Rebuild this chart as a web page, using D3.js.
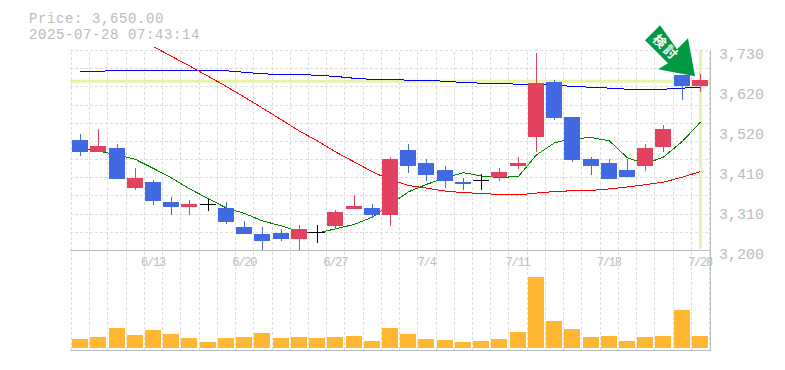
<!DOCTYPE html>
<html>
<head>
<meta charset="utf-8">
<script src="https://cdn.jsdelivr.net/npm/d3@7/dist/d3.min.js"></script>
<style>
  html, body { margin: 0; padding: 0; background: #fff; }
  text { font-family: "Liberation Mono", monospace; fill: #bbb; }
  .axis path, .axis line { stroke: none; }
  .grid line { stroke: #ddd; stroke-dasharray: 3,2; shape-rendering: crispEdges; }
  .grid path { stroke: none; }
</style>
</head>
<body>
<div id="chart"></div>
<script>
const dates = ["6/9","6/10","6/11","6/12","6/13","6/16","6/17","6/18","6/19","6/20","6/23","6/24","6/25","6/26","6/27","6/30","7/1","7/2","7/3","7/4","7/7","7/8","7/9","7/10","7/11","7/14","7/15","7/16","7/17","7/18","7/22","7/23","7/24","7/25","7/28"];
const dateLabels = ["6/13","6/20","6/27","7/4","7/11","7/18","7/28"];
const opens  = [3492,3460,3470,3364,3380,3327,3314,3321,3311,3261,3242,3245,3229,3249,3264,3309,3311,3293,3465,3431,3412,3380,3386,3393,3423,3499,3645,3552,3441,3431,3412,3423,3473,3664,3635];
const highs  = [3507,3521,3481,3417,3386,3340,3332,3335,3327,3277,3261,3256,3266,3266,3306,3346,3322,3446,3481,3441,3423,3391,3401,3417,3446,3722,3650,3552,3446,3441,3441,3481,3531,3664,3666];
const lows   = [3449,3460,3388,3359,3319,3293,3293,3303,3269,3242,3197,3224,3197,3219,3258,3309,3285,3264,3404,3383,3364,3359,3359,3383,3415,3460,3545,3433,3399,3388,3393,3409,3460,3598,3619];
const closes = [3460,3476,3388,3391,3330,3314,3322,3321,3274,3242,3224,3229,3256,3249,3301,3317,3293,3441,3423,3399,3383,3375,3386,3407,3431,3643,3550,3439,3423,3388,3393,3470,3521,3635,3650];
const volumes = [90,110,200,130,180,140,100,60,100,110,150,100,110,100,110,120,70,200,140,90,80,60,70,90,160,710,270,190,110,120,70,110,120,380,120];
const ma5 = [3470,3462,3452,3440,3416,3391,3362,3336,3311,3297,3277,3264,3248,3245,3256,3268,3287,3321,3354,3374,3391,3405,3396,3392,3395,3452,3484,3495,3498,3489,3444,3429,3446,3488,3539];
const ma25 = [null,null,null,null,3739,3713,3688,3660,3633,3605,3576,3545,3515,3489,3460,3433,3407,3386,3371,3364,3356,3352,3350,3347,3346,3351,3355,3357,3358,3362,3367,3373,3380,3393,3408];
const ma75 = [3673,3674,3675,3675,3675,3675,3675,3675,3675,3671,3667,3665,3665,3663,3660,3655,3652,3652,3650,3650,3647,3644,3642,3642,3639,3639,3636,3634,3631,3629,3626,3626,3626,3629,3631];
const priceTicks = [3200,3306,3412,3518,3624,3730];
const priceMin = 3200, priceMax = 3730, gridSteps = 11;
const currentPrice = 3650;
const title = ["Price: 3,650.00", "2025-07-28 07:43:14"];
const flagLabel = "検討";

const width = 785, height = 370;
const plot = { left: 71, right: 709, top: 50, bottom: 250, volBottom: 348, panelBottom: 350 };
const blue = "#4169e1", red = "#e2425f", black = "#000", band = "#e5f4a9", border = "#bbb", orange = "#ffb733";

const svg = d3.select("#chart").append("svg")
    .attr("width", width)
    .attr("height", height)
    .style("display", "block");

const x = d3.scaleBand().domain(dates).range([plot.left, plot.right]);
const y = d3.scaleLinear().domain([priceMin, priceMax]).range([plot.bottom, plot.top]);
const yVol = d3.scaleLinear().domain([0, 980]).range([plot.volBottom, plot.volBottom - 98]);
const cx = d => Math.round(x(d) + x.bandwidth() / 2);

// grid
const hTicks = d3.range(gridSteps + 1).map(i => priceMin + i * (priceMax - priceMin) / gridSteps);
svg.append("g").attr("class", "grid")
    .attr("transform", "translate(" + (plot.left - 1) + ",0)")
    .call(d3.axisLeft(y).tickValues(hTicks.slice(1)).tickSize(-(plot.right - plot.left + 2)).tickFormat(""));

const edges = d3.range(dates.length + 1);
const xEdge = d3.scaleLinear().domain([0, dates.length]).range([plot.left, plot.right]);
svg.append("g").attr("class", "grid")
    .attr("transform", "translate(0," + plot.panelBottom + ")")
    .selectAll("line").data(edges).enter().append("line")
    .attr("x1", d => Math.round(xEdge(d)) + 0.5)
    .attr("x2", d => Math.round(xEdge(d)) + 0.5)
    .attr("y1", 0)
    .attr("y2", plot.top - plot.panelBottom);

// current price cross
const last = dates[dates.length - 1];
svg.append("line")
    .attr("x1", plot.left - 1).attr("x2", plot.right + 1)
    .attr("y1", y(currentPrice) + 1).attr("y2", y(currentPrice) + 1)
    .attr("stroke", band).attr("stroke-width", 3);
svg.append("line")
    .attr("x1", cx(last) + 0.5).attr("x2", cx(last) + 0.5)
    .attr("y1", plot.top + 1).attr("y2", plot.bottom - 1)
    .attr("stroke", band).attr("stroke-width", 3);

// moving averages
const maLine = d3.line()
    .defined(d => d.v !== null)
    .x(d => cx(d.date) + 0.5)
    .y(d => y(d.v));
[[ma75, "#0000ff"], [ma25, "#ff0000"], [ma5, "#008000"]].forEach(([values, color]) => {
    svg.append("path")
        .datum(values.map((v, i) => ({ date: dates[i], v: v })))
        .attr("d", maLine)
        .attr("fill", "none")
        .attr("stroke", color)
        .attr("stroke-width", 1)
        .attr("shape-rendering", "crispEdges");
});

// candles
const candles = dates.map((d, i) => ({ date: d, o: opens[i], h: highs[i], l: lows[i], c: closes[i] }));
const candleColor = d => d.c > d.o ? red : d.c < d.o ? blue : black;

svg.append("g").selectAll("line").data(candles).enter().append("line")
    .attr("x1", d => cx(d.date) + 0.5)
    .attr("x2", d => cx(d.date) + 0.5)
    .attr("y1", d => y(d.h))
    .attr("y2", d => y(d.l))
    .attr("stroke", candleColor)
    .attr("shape-rendering", "crispEdges");

svg.append("g").selectAll("rect").data(candles).enter().append("rect")
    .attr("x", d => cx(d.date) - 8)
    .attr("width", 16)
    .attr("y", d => Math.round(y(Math.max(d.o, d.c))))
    .attr("height", d => Math.max(1, Math.round(y(Math.min(d.o, d.c))) - Math.round(y(Math.max(d.o, d.c)))))
    .attr("fill", candleColor)
    .attr("shape-rendering", "crispEdges");

// volume
svg.append("g").selectAll("rect").data(volumes).enter().append("rect")
    .attr("x", (d, i) => cx(dates[i]) - 8)
    .attr("width", 16)
    .attr("y", d => yVol(d))
    .attr("height", d => yVol(0) - yVol(d))
    .attr("fill", orange)
    .attr("shape-rendering", "crispEdges");

// panel borders
[plot.bottom, plot.panelBottom].forEach(v => {
    svg.append("line")
        .attr("x1", plot.left - 1).attr("x2", plot.right + 2)
        .attr("y1", v + 0.5).attr("y2", v + 0.5)
        .attr("stroke", border);
});
svg.append("line")
    .attr("x1", plot.right + 1.5).attr("x2", plot.right + 1.5)
    .attr("y1", plot.top).attr("y2", plot.panelBottom + 1)
    .attr("stroke", border);

// axes
const yAxis = d3.axisRight(y)
    .tickValues(priceTicks)
    .tickSize(0)
    .tickPadding(9)
    .tickFormat(d => d3.format(",")(Math.round(d / 10) * 10));
const yAxisG = svg.append("g").attr("class", "axis")
    .attr("transform", "translate(" + (plot.right + 1) + ",0)")
    .call(yAxis);
yAxisG.selectAll("text").attr("dy", "8px").style("font-size", "15px");

const xAxis = d3.axisBottom(x).tickValues(dateLabels).tickSize(0).tickPadding(0);
const xAxisG = svg.append("g").attr("class", "axis")
    .attr("transform", "translate(0," + plot.bottom + ")")
    .call(xAxis);
xAxisG.selectAll("text")
    .attr("dy", "16px")
    .style("font-size", "12px")
    .style("letter-spacing", "-1.2px");

// header
svg.selectAll(".title").data(title).enter().append("text")
    .attr("class", "title")
    .attr("x", 29)
    .attr("y", (d, i) => 22.5 + i * 16)
    .style("font-size", "14px")
    .style("letter-spacing", "0.6px")
    .text(d => d);

// flag arrow, drawn relative to its tip above the last candles
const tipX = cx(last) - 5, tipY = y(currentPrice) - 4;
const arrow = [[-35, -51], [-18, -27], [-7, -38], [0, 0], [-37, -7], [-27, -13], [-50, -36]];
const flag = svg.append("g").attr("transform", "translate(" + tipX + "," + tipY + ")");
flag.append("polygon")
    .attr("points", arrow.map(p => p.join(",")).join(" "))
    .attr("fill", "#009944");
flag.append("text")
    .attr("transform", "translate(-29,-29) rotate(45)")
    .attr("text-anchor", "middle")
    .attr("dy", "5px")
    .style("font-family", '"Noto Sans CJK JP"')
    .style("font-size", "13px")
    .style("font-weight", "bold")
    .style("letter-spacing", "2px")
    .style("fill", "#fff")
    .text(flagLabel);
</script>
</body>
</html>
